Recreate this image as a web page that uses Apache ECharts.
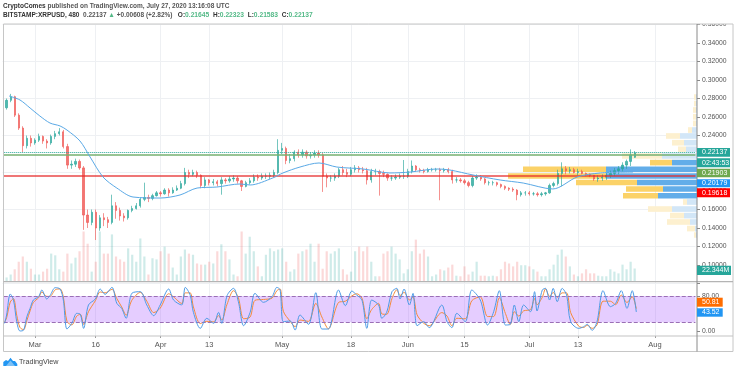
<!DOCTYPE html>
<html>
<head>
<meta charset="utf-8">
<title>XRPUSD</title>
<script src="https://cdn.jsdelivr.net/npm/echarts@6/dist/echarts.min.js"></script>
<style>
html,body{margin:0;padding:0;background:#fff}
#main{width:736px;height:372px}
</style>
</head>
<body>
<div id="main"></div>
<script>
// one candle per day, starts Feb 23 2020
var opens = [.270,.278,.282,.262,.248,.229,.237,
  .232,.235,.239,.234,.232,.239,.242,.244,.228,.208,.209,.212,.205,.154,.146,.157,.140,.151,.149,.146,.164,.159,.153,.151,.159,.161,.164,.171,.173,.172,.175,
  .178,.177,.181,.178,.181,.183,.188,.200,.198,.200,.197,.186,.192,.189,.190,.188,.192,.191,.193,.194,.191,.185,.189,.191,.195,.194,.196,.196,.197,.200,
  .224,.226,.213,.215,.222,.219,.222,.218,.219,.221,.219,.196,.194,.194,.196,.203,.200,.198,.203,.205,.203,.202,.192,.201,.201,.199,.198,.194,.194,.195,.196,
  .196,.201,.207,.203,.202,.201,.203,.203,.203,.202,.203,.201,.192,.192,.191,.189,.186,.194,.195,.193,.189,.189,.189,.187,.185,.183,.182,.181,.176,.178,
  .178,.177,.177,.176,.177,.178,.186,.188,.199,.204,.202,.203,.200,.201,.199,.198,.197,.193,.194,.195,.197,.199,.202,.204,.208,.212,.2164];
var closes = [.278,.282,.262,.248,.229,.237,.232,
  .235,.239,.234,.232,.239,.242,.244,.228,.208,.209,.212,.205,.154,.146,.157,.140,.151,.149,.146,.164,.159,.153,.151,.159,.161,.164,.171,.173,.172,.175,.178,
  .177,.181,.178,.181,.183,.188,.200,.198,.200,.197,.186,.192,.189,.190,.188,.192,.191,.193,.194,.191,.185,.189,.191,.195,.194,.196,.196,.197,.200,.224,
  .226,.213,.215,.222,.219,.222,.218,.219,.221,.219,.196,.194,.194,.196,.203,.200,.198,.203,.205,.203,.202,.192,.201,.201,.199,.198,.194,.194,.195,.196,.196,
  .201,.207,.203,.202,.201,.203,.203,.203,.202,.203,.201,.192,.192,.191,.189,.186,.194,.195,.193,.189,.189,.189,.187,.185,.183,.182,.181,.176,.178,.178,
  .177,.177,.176,.177,.178,.186,.188,.199,.204,.202,.203,.200,.201,.199,.198,.197,.193,.194,.195,.197,.199,.202,.204,.208,.212,.219,.2214];
var lows = [.268,.276,.260,.246,.222,.226,.228,
  .230,.233,.231,.226,.230,.236,.240,.226,.204,.204,.206,.203,.138,.140,.143,.127,.137,.142,.140,.144,.150,.148,.147,.149,.157,.160,.162,.169,.168,.170,.174,
  .174,.176,.174,.177,.180,.182,.186,.194,.196,.194,.183,.183,.186,.186,.185,.176,.188,.189,.190,.188,.180,.184,.187,.189,.191,.192,.193,.193,.195,.198,
  .220,.209,.210,.212,.216,.216,.215,.215,.216,.216,.179,.184,.190,.191,.194,.197,.195,.196,.200,.200,.199,.187,.189,.197,.175,.195,.191,.191,.192,.193,.193,
  .194,.199,.201,.200,.199,.200,.201,.201,.170,.200,.199,.188,.189,.189,.187,.184,.184,.192,.191,.187,.186,.186,.185,.183,.181,.180,.179,.170,.174,.175,
  .175,.175,.174,.174,.175,.177,.184,.186,.185,.198,.199,.199,.197,.198,.196,.195,.191,.190,.191,.192,.194,.196,.198,.201,.204,.207,.2158];
var highs = [.280,.285,.283,.264,.250,.240,.240,
  .237,.242,.240,.236,.241,.245,.248,.246,.231,.213,.215,.214,.207,.160,.160,.160,.154,.156,.152,.176,.168,.162,.156,.160,.164,.167,.173,.189,.176,.177,.180,
  .180,.183,.183,.184,.186,.191,.205,.203,.203,.202,.198,.195,.193,.193,.192,.195,.194,.196,.197,.196,.192,.191,.194,.198,.198,.199,.199,.200,.203,.236,
  .232,.228,.220,.224,.225,.225,.224,.222,.224,.224,.221,.199,.197,.199,.205,.207,.204,.206,.208,.207,.206,.205,.204,.204,.203,.202,.199,.197,.198,.199,.2135,
  .204,.213,.208,.205,.204,.205,.205,.205,.205,.205,.205,.203,.195,.194,.193,.191,.196,.198,.197,.194,.191,.191,.190,.188,.186,.184,.184,.182,.180,.180,
  .180,.179,.179,.179,.179,.188,.190,.203,.211,.207,.206,.205,.204,.203,.200,.199,.197,.197,.198,.200,.202,.205,.207,.211,.214,.225,.2232];
// volume in millions
var volumes = [7,12,21,34,43,34,22,12,12,17,22,48,45,21,17,48,31,41,52,86,65,17,34,86,48,48,81,43,38,34,57,46,34,74,43,12,40,38,
  52,60,48,24,12,43,55,48,46,31,29,29,34,31,52,64,52,38,12,9,86,48,77,52,26,9,46,57,52,55,
  57,34,17,21,48,52,55,65,34,65,22,52,48,52,57,21,12,17,52,60,52,60,34,9,9,48,52,60,48,38,14,
  21,52,72,48,55,43,9,12,21,19,24,29,10,9,26,12,17,34,10,10,9,10,9,21,34,31,26,34,28,28,
  26,21,17,9,9,21,29,46,55,43,26,12,9,14,21,14,14,10,9,9,21,17,14,29,21,34,22.344];
// moving average, day number and price
var maDays = [.6,3.3,5.8,8.2,10.7,13.2,14.9,18.1,20.6,23.8,27.2,31.2,37.9,42.8,47,51.9,57.6,60.1,65.7,68.2,72.4,77.1,81.5,88,94.6,99.6,106.2,109.4,115.1,121.8,127.5,134.8,140.8,146.5,154.6];
var maValues = [.2827,.2784,.2697,.2611,.2535,.2503,.2459,.2341,.2168,.1951,.1832,.1735,.1724,.1757,.1832,.1843,.1876,.1865,.1941,.1995,.2059,.2103,.2059,.2038,.1995,.2005,.2038,.2027,.1973,.1919,.1886,.1822,.1951,.1995,.2005];
// stoch rsi turning points
var rsiDays = [-.5,0,.9,1.7,2.5,3.3,4.2,5,5.8,6.6,7.9,8.7,9.9,10.7,12,13.2,14,14.9,16.1,17.3,18.2,19,20.2,21.9,23.1,24.3,26,27.2,28.4,29.5,30.9,33,34.6,36.3,37.9,40,41.2,43.2,44.1,45.3,46.1,47.8,49.4,51.1,52.3,53.1,54.4,56,57.2,58.5,
  60.1,61.3,63.4,65.5,66.7,67.5,68.3,70,71.2,72.4,74.5,76.3,77.8,79.4,81.9,83.6,85.2,86.4,87.7,88.9,90.1,91.8,92.6,93.8,95.1,96.3,97.1,98.1,99.4,100.3,101.3,102.9,104.3,107.4,108.7,109.9,111.1,113.2,114.8,116.9,118.7,
  120.2,121.6,123.1,124.3,125.3,126.4,127.6,129.3,130.3,130.9,132.2,133,134,134.9,135.9,137.1,138.2,139.2,141.2,142.4,143.3,144.5,145.7,147.2,149,150.3,151.7,153.1,154.4,155.4];
var rsiK = [17.5,36.5,84.4,70.7,21.3,0,2.2,32.7,51.7,70.7,78.3,93.5,73,80.6,98.8,95.8,70.7,4.5,17.5,40.3,38,6,59.3,73,95.8,83.6,99.6,63,51.7,28.9,85.9,89.7,59.3,35,59.3,95.8,70.7,59.3,99.6,82.1,42.5,6,28.9,17.5,42.5,17.5,80.6,97.3,66.9,12.1,
  42.5,85.9,65.4,78.3,99.6,93.5,21.3,22.8,2.2,36.5,15.2,87.4,4.5,4.5,93.5,57.8,91.2,82.1,70.7,6,70.7,59.3,28.9,42.5,89.7,97.3,73,95.8,59.3,85.9,12.1,21.3,7.6,59.3,21.3,7.6,40.3,21.3,93.5,70.7,13.6,
  44,92,13.6,15.2,59.3,21.3,59.3,44,89.7,45.6,93.5,97.3,70.7,97.3,66.9,97.3,82.1,21.3,6,9.8,15.2,1.5,21.3,92,55.5,63,92,51.7,92,43.52];
var rsiD = [20,30,66,74,36,8,3,24,46,65,76,89,79,79,94,96,78,22,14,34,38,15,44,69,89,87,95,74,55,36,70,88,68,42,52,85,78,63,87,87,55,17,22,21,35,25,61,92,76,28,
  32,70,72,75,92,96,45,22,10,25,22,63,32,5,65,68,80,85,75,28,49,63,39,38,74,94,81,88,71,77,37,18,12,42,34,12,29,28,69,78,33,
  33,76,40,15,44,34,46,49,74,60,77,96,79,88,77,87,87,42,11,8,13,6,14,68,68,60,82,65,78,50.81];
// volume profile rows: price, buy and sell size
var vpPrices = [.2816,.2746,.2676,.2602,.2531,.2459,.2395,.2322,.2251,.2178,.2107,.2035,.1962,.1892,.1822,.1749,.1681,.1605,.1534,.1465,.1394,.1324];
var vpUp = [1,1,1,1,1,5,17,13,11,35,25,91,91,60,34,39,10,25,13,7,2,1];
var vpDown = [2,2,3,3,3,4,14,12,8,40,22,83,98,61,37,35,4,24,14,23,8,2];
var vpInArea = [0,0,0,0,0,0,0,0,0,0,1,1,1,1,1,1,0,0,0,0,0,0];
var dateLabels = {7:'Mar',22:'16',38:'Apr',50:'13',68:'May',85:'18',99:'Jun',113:'15',129:'Jul',141:'13',160:'Aug'};
var priceLines = {last:.22137,green:.21903,red:.19618};

var upColor = '#26a69a', downColor = '#ef5350';
var font = 'Liberation Sans';

// x axis has one blank slot in front of the first candle
var slots = [], candles = ['-'], volumeBars = ['-'];
for (var i = 0; i < 172; i++) {
    slots.push(String(i - 1));
}
for (var i = 0; i < closes.length; i++) {
    candles.push([opens[i], closes[i], lows[i], highs[i]]);
    volumeBars.push({
        value: volumes[i],
        itemStyle: {color: closes[i] >= opens[i] ? 'rgba(38,166,154,.22)' : 'rgba(239,83,80,.22)'}
    });
}
function pairs(xs, ys) {
    return xs.map(function (x, n) { return [x, ys[n]]; });
}
function isDateSlot(index) {
    return dateLabels[index - 1] !== undefined;
}
function flatLine(value, color, width, type) {
    return [
        {xAxis: -.7, yAxis: value, lineStyle: {color: color, width: width, type: type}},
        {xAxis: 170, yAxis: value}
    ];
}
var vpRows = vpPrices.map(function (p, n) { return [p, vpUp[n], vpDown[n], vpInArea[n]]; });

function renderRow(params, api) {
    var price = api.value(0), up = api.value(1), down = api.value(2), inArea = api.value(3);
    var half = 0.00305;
    var a = api.coord([0, price + half]);
    var b = api.coord([up, price - half]);
    var c = api.coord([up + down, price - half]);
    return {
        type: 'group',
        children: [
            {type: 'rect', shape: {x: b[0], y: a[1], width: a[0] - b[0], height: b[1] - a[1]},
                style: {fill: inArea ? '#62ade9' : '#d2e6f7'}},
            {type: 'rect', shape: {x: c[0], y: a[1], width: b[0] - c[0], height: b[1] - a[1]},
                style: {fill: inArea ? '#fbd268' : '#fdf0cf'}}
        ]
    };
}

function tag(top, bottom, right, fill, label) {
    return {
        type: 'group',
        children: [
            {type: 'rect', z: 120, shape: {x: 697, y: top, width: right - 697, height: bottom - top}, style: {fill: fill}},
            {type: 'text', z: 121, x: 702, y: (top + bottom) / 2,
                style: {text: label, fill: '#fff', font: '7px "' + font + '"', verticalAlign: 'middle'}}
        ]
    };
}
function rule(x1, y1, x2, y2, color, width) {
    return {type: 'line', z: 110, shape: {x1: x1, y1: y1, x2: x2, y2: y2}, style: {stroke: color, lineWidth: width || 1}};
}

var option = {
    animation: false,
    backgroundColor: '#fff',
    textStyle: {fontFamily: font},
    title: [{
        left: 3, top: 3, padding: 0,
        text: '{a|CryptoComes}{b| published on TradingView.com, July 27, 2020 13:16:08 UTC}',
        textStyle: {fontSize: 6.5, rich: {
            a: {fontSize: 6.5, fontWeight: 'bold', color: '#333', fontFamily: font},
            b: {fontSize: 6.5, color: '#555', fontFamily: font}
        }}
    }, {
        left: 3, top: 12, padding: 0,
        text: '{a|BITSTAMP:XRPUSD, 480}{b|  0.22137 }{g|▲}{b| +0.00608 (+2.82%)   }{a|O:}{g|0.21645  }{a|H:}{g|0.22323  }{a|L:}{g|0.21583  }{a|C:}{g|0.22137}',
        textStyle: {fontSize: 6.5, rich: {
            a: {fontSize: 6.5, fontWeight: 'bold', color: '#333', fontFamily: font},
            b: {fontSize: 6.5, color: '#555', fontFamily: font},
            g: {fontSize: 6.7, color: '#53b987', fontFamily: font}
        }}
    }],
    grid: [
        {left: 2.55, top: 24.5, width: 692.9, height: 259},
        {left: 2.55, top: 282, width: 692.9, height: 54}
    ],
    xAxis: [
        {type: 'category', gridIndex: 0, data: slots, boundaryGap: false,
            axisLine: {show: false, onZero: false}, axisTick: {show: false}, axisLabel: {show: false},
            splitLine: {show: true, interval: function (index) { return isDateSlot(index); }, lineStyle: {color: '#eef0f3'}}},
        {type: 'value', gridIndex: 0, min: -1, max: 170, show: false},
        {type: 'value', gridIndex: 0, min: 1.55, max: 694.45, inverse: true, show: false},
        {type: 'category', gridIndex: 1, data: slots, boundaryGap: false,
            axisLine: {show: false, onZero: false},
            axisTick: {show: true, length: 2, interval: function (index) { return isDateSlot(index); }, lineStyle: {color: '#999'}},
            axisLabel: {
                interval: function (index) { return isDateSlot(index); },
                formatter: function (v, index) { return dateLabels[index - 1] || ''; },
                fontSize: 7.5, color: '#555', margin: 5, fontFamily: font
            },
            splitLine: {show: true, interval: function (index) { return isDateSlot(index); }, lineStyle: {color: '#eef0f3'}}},
        {type: 'value', gridIndex: 1, min: -1, max: 170, show: false}
    ],
    yAxis: [
        {type: 'value', gridIndex: 0, position: 'right', offset: 1.55, min: .08, max: .36, interval: .02,
            axisLine: {show: false, onZero: false},
            axisTick: {show: true, length: 3, lineStyle: {color: '#888'}},
            splitLine: {show: false},
            axisLabel: {
                fontSize: 6.8, color: '#555', margin: 5, fontFamily: font,
                formatter: function (v) { return v < .09 ? '' : v.toFixed(5); }
            }},
        {type: 'value', gridIndex: 0, min: .08, max: .36, interval: .04,
            axisLine: {show: false, onZero: false}, axisTick: {show: false}, axisLabel: {show: false},
            splitLine: {show: true, lineStyle: {color: '#eef0f3'}}},
        {type: 'value', gridIndex: 0, min: -3.44, max: 442, show: false, splitLine: {show: false}},
        {type: 'value', gridIndex: 1, position: 'right', offset: 1.55, min: -11.41, max: 111.8,
            axisLine: {show: false, onZero: false},
            axisTick: {show: true, length: 3, customValues: [0, 80], lineStyle: {color: '#888'}},
            splitLine: {show: false},
            axisLabel: {
                customValues: [0, 80], fontSize: 6.8, color: '#555', margin: 5, fontFamily: font,
                formatter: function (v) { return Number(v).toFixed(2); }
            }}
    ],
    series: [
        {type: 'custom', name: 'profile', xAxisIndex: 2, yAxisIndex: 0, z: 1, silent: true,
            clip: false, renderItem: renderRow, data: vpRows,
            encode: {x: [1], y: [0]}},
        {type: 'bar', name: 'volume', xAxisIndex: 0, yAxisIndex: 2, z: 2, barWidth: 2.2, data: volumeBars},
        {type: 'candlestick', name: 'XRPUSD', xAxisIndex: 0, yAxisIndex: 0, z: 4, barWidth: 1.8,
            itemStyle: {color: upColor, color0: downColor, borderColor: upColor, borderColor0: downColor, borderWidth: .8, opacity: .8},
            data: candles},
        {type: 'line', name: 'MA', xAxisIndex: 1, yAxisIndex: 0, z: 5, smooth: .3, showSymbol: false, silent: true,
            lineStyle: {color: '#5aa9e6', width: 1}, data: pairs(maDays, maValues),
            markLine: {
                silent: true, symbol: 'none', label: {show: false}, animation: false,
                data: [
                    flatLine(priceLines.last, '#26a69a', 1, 'dotted'),
                    flatLine(priceLines.green, 'rgba(118,176,112,.75)', 2, 'solid'),
                    flatLine(priceLines.red, 'rgba(229,40,40,.85)', 1.6, 'solid')
                ]
            }},
        {type: 'line', name: 'D', xAxisIndex: 4, yAxisIndex: 3, z: 4, smooth: .3, showSymbol: false, silent: true,
            lineStyle: {color: '#f58a3a', width: 1}, data: pairs(rsiDays, rsiD)},
        {type: 'line', name: 'K', xAxisIndex: 4, yAxisIndex: 3, z: 5, smooth: .3, showSymbol: false, silent: true,
            lineStyle: {color: '#4d9be6', width: 1}, data: pairs(rsiDays, rsiK),
            markArea: {
                silent: true, itemStyle: {color: 'rgba(170,90,255,.3)'},
                data: [[{xAxis: -.7, yAxis: 80}, {xAxis: 170.4, yAxis: 20}]]
            },
            markLine: {
                silent: true, symbol: 'none', label: {show: false},
                data: [
                    flatLine(80, '#9a6fb5', 1, 'dashed'),
                    flatLine(20, '#9a6fb5', 1, 'dashed')
                ]
            }}
    ],
    graphic: {elements: [
        {type: 'rect', z: 105, shape: {x: 697.5, y: 17, width: 36, height: 7}, style: {fill: '#fff'}},
        {type: 'rect', z: 110, shape: {x: 3.5, y: 24, width: 729.5, height: 327.5}, style: {fill: 'none', stroke: '#c6c6c6', lineWidth: 1}},
        rule(3.5, 281.7, 733, 281.7, '#b4b4b4', 1.2),
        rule(3.5, 336, 733, 336, '#c4c4c4', 1.2),
        rule(697, 24, 697, 351.5, '#8a8a8a', 1),
        tag(148, 156.7, 730, '#26a69a', '0.22137'),
        tag(158.3, 167.3, 730, '#26a69a', '02:43:53'),
        tag(168.7, 177.3, 730, '#6fa84f', '0.21903'),
        tag(179.3, 187.3, 730, '#2196f3', '0.20179'),
        tag(188.3, 197.3, 730, '#ff0000', '0.19618'),
        tag(265.7, 275, 731, '#26a69a', '22.344M'),
        tag(297.7, 306.7, 722.7, '#ff6d00', '50.81'),
        tag(308.3, 316.7, 722.7, '#2196f3', '43.52'),
        // logo
        {type: 'polygon', z: 110, shape: {points: [[3.3,366],[3.3,362],[6,360],[8,361],[10.5,357.7],[13,361],[15,361],[17.3,364],[17.3,366]]}, style: {fill: '#2196f3'}},
        {type: 'polygon', z: 111, shape: {points: [[6,366],[10.5,360.5],[15,366]]}, style: {fill: '#7cc0f5'}},
        {type: 'text', z: 110, x: 19, y: 362, style: {text: 'TradingView', fill: '#444', font: '7.2px "' + font + '"', verticalAlign: 'middle'}}
    ]}
};

var chart = echarts.init(document.getElementById('main'), null, {renderer: 'canvas'});
chart.setOption(option);
</script>
</body>
</html>
